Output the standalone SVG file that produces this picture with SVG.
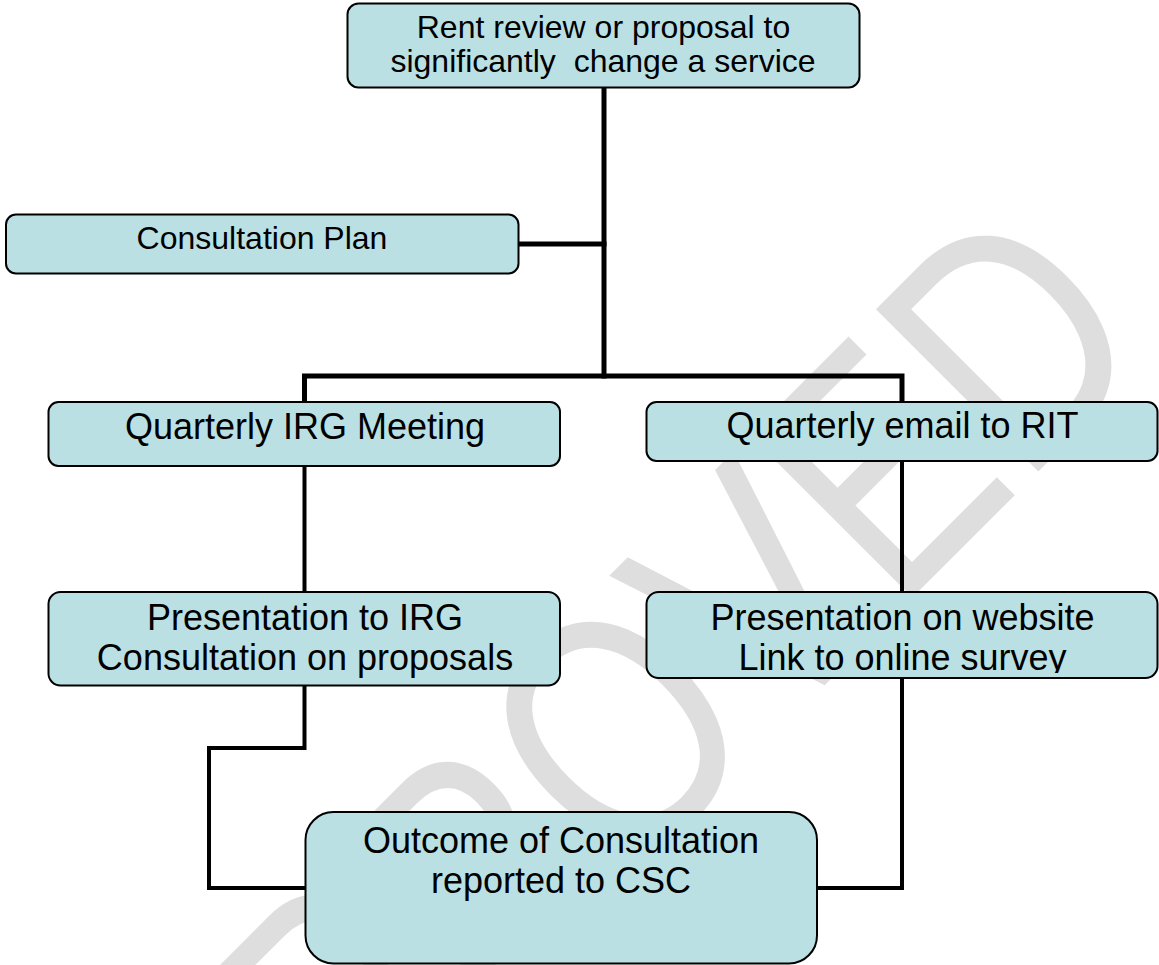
<svg xmlns="http://www.w3.org/2000/svg" width="1159" height="965" viewBox="0 0 1159 965">
  <defs>
    <style>
      .box { fill: #bae0e3; stroke: #000; stroke-width: 2; }
      .lbl { font-family: "Liberation Sans", Arial, sans-serif; fill: #000; text-anchor: middle; white-space: pre; }
      .s32 { font-size: 32px; }
      .s36 { font-size: 36px; }
      .wire { fill: none; stroke: #000; stroke-width: 5; stroke-linejoin: miter; stroke-linecap: square; }
      .wire2 { fill: none; stroke: #000; stroke-width: 4; stroke-linejoin: miter; stroke-linecap: square; }
      .wm { font-family: "Liberation Sans", Arial, sans-serif; font-size: 334px; fill: #dedede; }
    </style>
    <clipPath id="clipWeb">
      <rect x="647" y="592" width="511" height="81"/>
    </clipPath>
  </defs>
  <rect width="1159" height="965" fill="#fff"/>

  <g id="watermark">
    <text class="wm" transform="translate(1023,487) rotate(-45) scale(0.8,1)" x="241" y="0" text-anchor="end">APPROVED</text>
  </g>

  <g id="connectors">
    <path class="wire" d="M604,88 V376"/>
    <path class="wire" d="M519,244 H604"/>
    <path class="wire" d="M304.5,403 V376 H902 V403"/>
    <path class="wire2" d="M304.5,466 V592"/>
    <path class="wire2" d="M902,461 V592"/>
    <path class="wire2" d="M304.5,686 V748 H209 V888 H305"/>
    <path class="wire2" d="M902,678 V888 H817"/>
  </g>

  <g id="node-rent-review">
    <rect class="box" x="347.5" y="3.5" width="512" height="84" rx="11"/>
    <text class="lbl s32" x="603.5" y="37.5">Rent review or proposal to</text>
    <text class="lbl s32" x="603" y="72">significantly  change a service</text>
  </g>

  <g id="node-consultation-plan">
    <rect class="box" x="6" y="214.5" width="512.5" height="59" rx="10"/>
    <text class="lbl s32" x="262" y="249">Consultation Plan</text>
  </g>

  <g id="node-irg-meeting">
    <rect class="box" x="48.5" y="402" width="511.5" height="64" rx="10"/>
    <text class="lbl s36" x="305" y="439">Quarterly IRG Meeting</text>
  </g>

  <g id="node-email-rit">
    <rect class="box" x="646.5" y="402" width="511" height="59" rx="10"/>
    <text class="lbl s36" x="902.5" y="438">Quarterly email to RIT</text>
  </g>

  <g id="node-presentation-irg">
    <rect class="box" x="48.5" y="592" width="511.5" height="93.5" rx="12"/>
    <text class="lbl s36" x="305" y="630">Presentation to IRG</text>
    <text class="lbl s36" x="305" y="670">Consultation on proposals</text>
  </g>

  <g id="node-presentation-web">
    <rect class="box" x="646.5" y="592" width="511" height="86" rx="12"/>
    <text class="lbl s36" x="902.5" y="630">Presentation on website</text>
    <text class="lbl s36" x="902.5" y="670" clip-path="url(#clipWeb)">Link to online survey</text>
  </g>

  <g id="node-outcome">
    <rect class="box" x="305.5" y="812" width="511.5" height="151.5" rx="28"/>
    <text class="lbl s36" x="561" y="853">Outcome of Consultation</text>
    <text class="lbl s36" x="561" y="893">reported to CSC</text>
  </g>
</svg>
